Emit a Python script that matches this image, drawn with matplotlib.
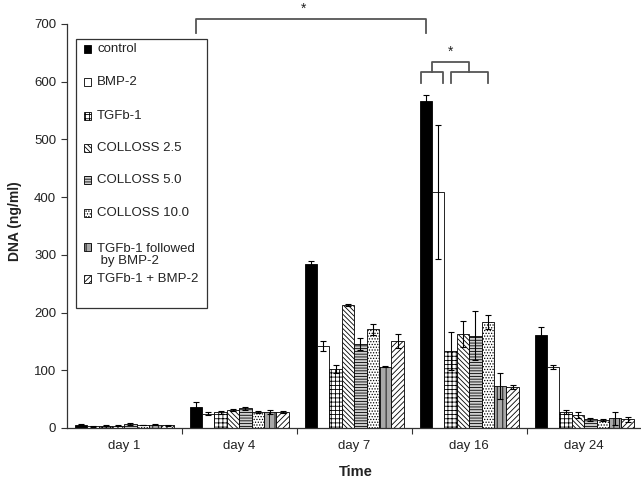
import matplotlib.pyplot as plt
import numpy as np
from matplotlib.patches import Rectangle

# ----------------------------------------------------------------------------------------
# data (DNA in ng/ml, mean and error)
days = ['day 1', 'day 4', 'day 7', 'day 16', 'day 24']
groups = ['control', 'BMP-2', 'TGFb-1', 'COLLOSS 2.5', 'COLLOSS 5.0', 'COLLOSS 10.0',
          'TGFb-1 followed\n by BMP-2', 'TGFb-1 + BMP-2']

control = [6, 37, 285, 567, 162]
control_err = [1, 8, 5, 10, 13]
bmp2 = [3, 25, 142, 409, 106]
bmp2_err = [0.5, 3, 8, 116, 4]
tgfb1 = [4, 27, 103, 133, 28]
tgfb1_err = [0.5, 2, 7, 33, 3]
colloss_25 = [4, 31, 213, 163, 22]
colloss_25_err = [1, 2, 2, 22, 5]
colloss_50 = [7, 34, 146, 160, 15]
colloss_50_err = [1, 2, 10, 42, 3]
colloss_100 = [5, 28, 171, 183, 14]
colloss_100_err = [0.5, 2, 10, 12, 2]
tgfb1_then_bmp2 = [6, 28, 106, 73, 17]
tgfb1_then_bmp2_err = [1, 3, 1, 22, 11]
tgfb1_plus_bmp2 = [5, 28, 151, 71, 15]
tgfb1_plus_bmp2_err = [1, 2, 12, 4, 4]

values = [control, bmp2, tgfb1, colloss_25, colloss_50, colloss_100, tgfb1_then_bmp2, tgfb1_plus_bmp2]
errors = [control_err, bmp2_err, tgfb1_err, colloss_25_err, colloss_50_err, colloss_100_err,
          tgfb1_then_bmp2_err, tgfb1_plus_bmp2_err]

# fill colour and hatch for each group
styles = [('black', None), ('white', None), ('white', '++++'), ('white', '\\' * 7),
          ('#d0d0d0', '------'), ('white', '......'), ('#a8a8a8', '|||'), ('white', '//////')]
# ----------------------------------------------------------------------------------------

plt.rcParams['font.family'] = ['Liberation Sans', 'DejaVu Sans']
plt.rcParams['hatch.linewidth'] = 0.6
text_color = '#222222'

fig = plt.figure(figsize=(6.41, 4.79), dpi=100)
ax = fig.add_axes([66.7 / 641, 51 / 479, 575 / 641, 404 / 479])

x = np.arange(len(days))
bar_width = 0.108

for j in range(len(groups)):
    face, hatch = styles[j]
    pos = x + (j - 3.5) * bar_width
    ax.bar(pos, values[j], bar_width, color=face, hatch=hatch, edgecolor='black', linewidth=0.6)
    ax.errorbar(pos, values[j], yerr=errors[j], fmt='none', ecolor='black',
                elinewidth=0.8, capsize=2.5, capthick=0.8)

# axes
ax.set_xlim(-0.5, 4.5)
ax.set_ylim(0, 700)
ax.set_yticks(np.arange(0, 701, 100))
ax.set_xticks(x)
ax.set_xticklabels(days)
ax.set_xticks(x[:-1] + 0.5, minor=True)
ax.tick_params(axis='x', which='major', length=0, pad=9, labelsize=9.5, labelcolor=text_color)
ax.tick_params(axis='x', which='minor', length=4, width=0.8, color='#333333')
ax.tick_params(axis='y', length=4, width=0.8, color='#333333', labelsize=9.5, labelcolor=text_color)
for side in ['top', 'right']:
    ax.spines[side].set_visible(False)
for side in ['left', 'bottom']:
    ax.spines[side].set_linewidth(0.9)
    ax.spines[side].set_color('#333333')

ax.set_xlabel('Time', fontsize=10.5, fontweight='bold', color=text_color)
ax.xaxis.set_label_coords(0.503, -0.091)
ax.set_ylabel('DNA (ng/ml)', fontsize=10, fontweight='bold', color=text_color)
ax.yaxis.set_label_coords(-0.078, 0.511)

# significance brackets
line_kw = dict(color='#555555', lw=1.3, clip_on=False)
x0 = 1 - 3.5 * bar_width
x1 = 3 - 3.5 * bar_width
ax.plot([x0, x0, x1, x1], [685, 709, 709, 685], **line_kw)
ax.text((x0 + x1) / 2 - 0.06, 714, '*', ha='center', va='bottom', fontsize=10, color=text_color)

ax.plot([2.58, 2.58, 2.77, 2.77], [598, 616, 616, 598], **line_kw)
ax.plot([2.84, 2.84, 3.16, 3.16], [598, 616, 616, 598], **line_kw)
ax.plot([2.675, 2.675, 3.0, 3.0], [617, 635, 635, 617], **line_kw)
ax.text(2.84, 640, '*', ha='center', va='bottom', fontsize=10, color=text_color)

# legend box drawn by hand
ax.add_patch(Rectangle((0.0162, 0.297), 0.228, 0.666, transform=ax.transAxes,
                       facecolor='white', edgecolor='#333333', lw=0.9, zorder=5))
entry_y = [49.3, 82.3, 115.7, 148.3, 180, 212.7, 246.7, 279.3]
for j in range(len(groups)):
    face, hatch = styles[j]
    yc = (428 - entry_y[j]) / 404
    ax.add_patch(Rectangle((0.0301, yc - 0.0095), 0.0125, 0.019, transform=ax.transAxes,
                           facecolor=face, hatch=hatch, edgecolor='black', lw=0.6, zorder=6))
    # two-line label: centre it between its lines, first line level with the patch
    ty = yc - 8.3 / 404 if '\n' in groups[j] else yc
    ax.text(0.0530, ty, groups[j], transform=ax.transAxes, ha='left', va='center',
            fontsize=9.5, color=text_color, zorder=7, linespacing=1.0)

plt.savefig('out.png', dpi=100)
